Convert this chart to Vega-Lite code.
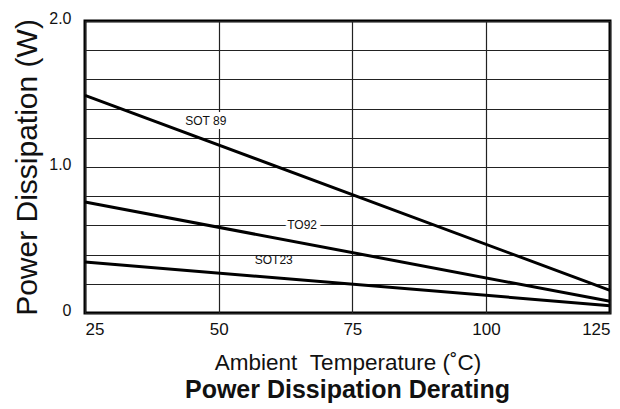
{
  "$schema": "https://vega.github.io/schema/vega-lite/v6.json",
  "width": 525,
  "height": 292,
  "autosize": {"type": "none"},
  "padding": {"left": 85, "top": 21, "right": 10, "bottom": 96},
  "background": "white",
  "config": {
    "font": "Liberation Sans",
    "view": {"stroke": "black", "strokeWidth": 3},
    "axis": {"labelColor": "#111", "titleColor": "#111", "domain": false, "ticks": false, "gridColor": "#222", "gridWidth": 1.2, "gridOpacity": 1},
    "title": {"orient": "bottom", "anchor": "middle", "fontSize": 25, "fontWeight": "bold", "color": "#111", "offset": 4}
  },
  "title": "Power Dissipation Derating",
  "datasets": {
    "lines": [
      {"series": "SOT 89", "temp": 25, "power": 1.49},
      {"series": "SOT 89", "temp": 125, "power": 0.155},
      {"series": "TO92", "temp": 25, "power": 0.76},
      {"series": "TO92", "temp": 125, "power": 0.08},
      {"series": "SOT23", "temp": 25, "power": 0.35},
      {"series": "SOT23", "temp": 125, "power": 0.05}
    ],
    "labels": [
      {"label": "SOT 89", "temp": 47.6, "power": 1.315},
      {"label": "TO92", "temp": 65.6, "power": 0.6},
      {"label": "SOT23", "temp": 60.3, "power": 0.36}
    ]
  },
  "encoding": {
    "x": {
      "field": "temp", "type": "quantitative",
      "scale": {"domain": [25, 100, 125], "range": [0, 401, 525], "nice": false, "zero": false},
      "axis": {"values": [25, 50, 75, 100, 125], "labelFontSize": 17, "labelPadding": 8, "labelFlush": true, "title": "Ambient\u00a0\u00a0Temperature (˚C)", "titleFontSize": 22.5, "titleFontWeight": "normal", "titlePadding": 14}
    },
    "y": {
      "field": "power", "type": "quantitative",
      "scale": {"domain": [0, 2], "nice": false, "zero": true},
      "axis": {"values": [0, 0.2, 0.4, 0.6, 0.8, 1.0, 1.2, 1.4, 1.6, 1.8, 2.0], "labelExpr": "datum.value == 0 ? '0' : (abs(datum.value - 1) < 0.001 || abs(datum.value - 2) < 0.001 ? format(datum.value, '.1f') : '')", "labelFontSize": 16, "labelPadding": 14, "labelOffset": -3, "title": "Power Dissipation (W)", "titleFontSize": 30, "titleFontWeight": "normal", "titlePadding": 6}
    }
  },
  "layer": [
    {
      "data": {"name": "lines"},
      "mark": {"type": "line", "color": "black", "strokeWidth": 3},
      "encoding": {"detail": {"field": "series"}}
    },
    {
      "data": {"name": "labels"},
      "transform": [{"filter": "datum.label != 'SOT23'"}],
      "mark": {"type": "text", "fontSize": 12, "color": "white", "stroke": "white", "strokeWidth": 9, "strokeJoin": "round"},
      "encoding": {"text": {"field": "label"}}
    },
    {
      "data": {"name": "labels"},
      "mark": {"type": "text", "fontSize": 12, "color": "#111"},
      "encoding": {"text": {"field": "label"}}
    }
  ]
}
